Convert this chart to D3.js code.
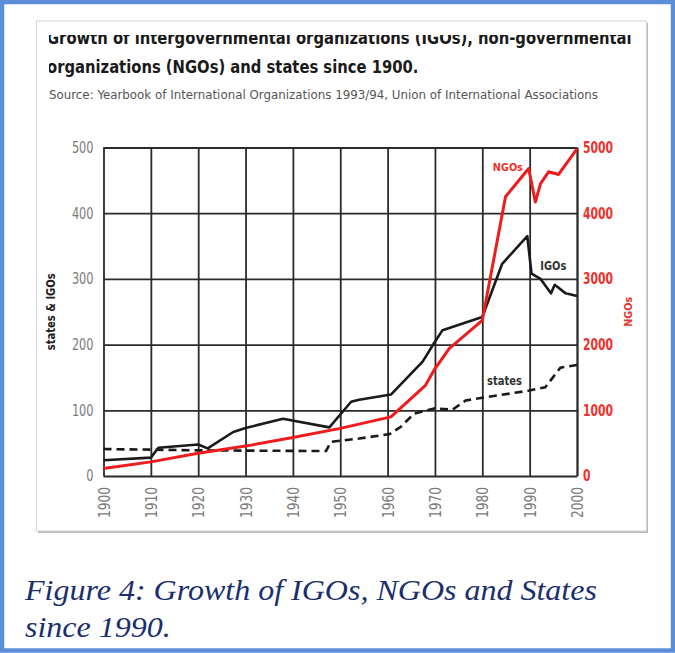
<!DOCTYPE html>
<html>
<head>
<meta charset="utf-8">
<script src="https://cdn.jsdelivr.net/npm/d3@7"></script>
<style>
  body { margin: 0; background: #fff; }
  .narrow { font-family: "Liberation Sans Narrow", "Arial Narrow", "DejaVu Sans Condensed", "Liberation Sans", sans-serif; }
</style>
</head>
<body>
<div id="chart"></div>
<script>
// ---- data ----
var xTicks = [1900, 1910, 1920, 1930, 1940, 1950, 1960, 1970, 1980, 1990, 2000];
var leftTicks = [0, 100, 200, 300, 400, 500];
var rightTicks = [0, 1000, 2000, 3000, 4000, 5000];

var igoYears = [1900, 1910, 1911.6, 1920, 1922, 1927.4, 1930, 1937.9, 1947.7, 1952.3, 1954, 1960.7, 1967.4, 1969.8, 1971.6, 1980, 1984.2, 1989.5, 1990.4, 1992.3, 1994.5, 1995.3, 1997.6, 2000];
var igoValues = [24, 28, 43, 48, 42, 67, 73, 87, 74, 113, 116, 124, 174, 202, 222, 242, 323, 365, 308, 300, 278, 291, 278, 274];

var ngoYears = [1900, 1910, 1920, 1930, 1940, 1950, 1960.7, 1968, 1969.8, 1973, 1980, 1984.9, 1989.8, 1991.2, 1992.3, 1994, 1996.1, 2000];
var ngoValues = [115, 215, 345, 455, 585, 725, 900, 1380, 1610, 1940, 2370, 4250, 4680, 4170, 4450, 4630, 4590, 4980];

var stateYears = [1900, 1910.9, 1920, 1947, 1948, 1954, 1960.5, 1962.8, 1965.6, 1970, 1973.7, 1976.5, 1980, 1989.9, 1993.3, 1996.5, 2000];
var stateValues = [41, 40, 39, 38, 52, 57, 64, 75, 95, 103, 101, 115, 119, 130, 135, 165, 169];

var svgWidth = 675;
var svgHeight = 653;

var margin = { top: 147.5, left: 103.5 };
var width = 473.5;
var height = 328.5;

var svg = d3.select("#chart")
  .append("svg")
  .attr("width", svgWidth)
  .attr("height", svgHeight);

// outer blue frame
svg.append("rect")
  .attr("x", 2).attr("y", 2)
  .attr("width", svgWidth - 4).attr("height", svgHeight - 4.5)
  .attr("fill", "#fff")
  .attr("stroke", "#5b8ed6")
  .attr("stroke-width", 4.5);

// picture box with a soft shadow
svg.append("rect")
  .attr("x", 38).attr("y", 23)
  .attr("width", 610).attr("height", 510)
  .attr("fill", "#bbb");
svg.append("rect")
  .attr("x", 36.5).attr("y", 21)
  .attr("width", 610).attr("height", 510)
  .attr("fill", "#fff")
  .attr("stroke", "#d4d4d4")
  .attr("stroke-width", 1);

// titles (clipped at top/left like the scanned picture)
svg.append("clipPath").attr("id", "titleClip")
  .append("rect").attr("x", 49).attr("y", 35).attr("width", 600).attr("height", 80);

var titleGroup = svg.append("g").attr("clip-path", "url(#titleClip)");
var t1 = titleGroup.append("text")
  .attr("class", "narrow")
  .attr("x", 47).attr("y", 44.5)
  .attr("font-size", 18.5).attr("font-weight", "bold").attr("fill", "#1a1a1a")
  .text("Growth of intergovernmental organizations (IGOs), non-governmental");
var t2 = titleGroup.append("text")
  .attr("class", "narrow")
  .attr("x", 47).attr("y", 73.5)
  .attr("font-size", 18.5).attr("font-weight", "bold").attr("fill", "#1a1a1a")
  .text("organizations (NGOs) and states since 1900.");

// squeeze both title lines by the same amount so line 1 fits its width
var len1 = t1.node().getComputedTextLength();
var sx = 585 / len1;
t1.attr("transform", `translate(${47 * (1 - sx)},0) scale(${sx},1)`);
t2.attr("transform", `translate(${47 * (1 - sx)},0) scale(${sx},1)`);

svg.append("text")
  .attr("class", "narrow")
  .attr("x", 49).attr("y", 99)
  .attr("font-size", 12.5).attr("fill", "#555")
  .attr("textLength", 549).attr("lengthAdjust", "spacingAndGlyphs")
  .text("Source: Yearbook of International Organizations 1993/94, Union of International Associations");

var chartGroup = svg.append("g")
  .attr("transform", `translate(${margin.left}, ${margin.top})`);

// scales
var xScale = d3.scaleLinear().domain([1900, 2000]).range([0, width]);
var yLeft = d3.scaleLinear().domain([0, 500]).range([height, 0]);
var yRight = d3.scaleLinear().domain([0, 5000]).range([height, 0]);

// grid via axes
var leftAxis = d3.axisLeft(yLeft).tickValues(leftTicks).tickSize(-width).tickPadding(10);
var rightAxis = d3.axisRight(yRight).tickValues(rightTicks).tickSize(0).tickPadding(6)
  .tickFormat(d3.format("d"));
var bottomAxis = d3.axisBottom(xScale).tickValues(xTicks).tickSize(-height).tickFormat(d3.format("d"));

var gx = chartGroup.append("g")
  .attr("transform", `translate(0, ${height})`)
  .call(bottomAxis);
gx.selectAll("text")
  .attr("transform", "rotate(-90)")
  .attr("x", -11).attr("y", 0).attr("dy", "0.36em")
  .attr("text-anchor", "end");

var gl = chartGroup.append("g").call(leftAxis);
var gr = chartGroup.append("g").attr("transform", `translate(${width}, 0)`).call(rightAxis);

[gx, gl].forEach(function(g) {
  g.select(".domain").remove();
  g.selectAll(".tick line").attr("stroke", "#2b2b2b").attr("stroke-width", 1.8);
  g.selectAll("text").attr("class", "narrow").attr("font-size", 15.5).attr("fill", "#7a7a7a");
});
gl.selectAll("text")
  .attr("textLength", d => String(d).length * 7.2).attr("lengthAdjust", "spacingAndGlyphs");
gx.selectAll("text")
  .attr("textLength", 31).attr("lengthAdjust", "spacingAndGlyphs");
gr.select(".domain").attr("stroke", "#2b2b2b").attr("stroke-width", 1.8);
gr.selectAll("text").attr("class", "narrow").attr("font-size", 15.5)
  .attr("font-weight", "bold").attr("fill", "#f0302a")
  .attr("textLength", d => String(d).length * 7.5).attr("lengthAdjust", "spacingAndGlyphs");

// lines
var lineLeft = d3.line().x(d => xScale(d[0])).y(d => yLeft(d[1]));
var lineRight = d3.line().x(d => xScale(d[0])).y(d => yRight(d[1]));

chartGroup.append("path")
  .datum(d3.zip(stateYears, stateValues))
  .attr("d", lineLeft)
  .attr("fill", "none").attr("stroke", "#1a1a1a")
  .attr("stroke-width", 2.6).attr("stroke-dasharray", "8,5");

chartGroup.append("path")
  .datum(d3.zip(igoYears, igoValues))
  .attr("d", lineLeft)
  .attr("fill", "none").attr("stroke", "#1a1a1a")
  .attr("stroke-width", 2.6).attr("stroke-linejoin", "round");

chartGroup.append("path")
  .datum(d3.zip(ngoYears, ngoValues))
  .attr("d", lineRight)
  .attr("fill", "none").attr("stroke", "#ee1c1c")
  .attr("stroke-width", 3).attr("stroke-linejoin", "round");

// series labels
chartGroup.append("text").attr("class", "narrow")
  .attr("x", xScale(1985.4)).attr("y", yRight(4640))
  .attr("text-anchor", "middle").attr("font-size", 11).attr("font-weight", "bold")
  .attr("fill", "#f0302a").attr("textLength", 30).attr("lengthAdjust", "spacingAndGlyphs")
  .text("NGOs");
chartGroup.append("text").attr("class", "narrow")
  .attr("x", xScale(1995)).attr("y", yLeft(314))
  .attr("text-anchor", "middle").attr("font-size", 12).attr("font-weight", "bold")
  .attr("fill", "#333").attr("textLength", 26).attr("lengthAdjust", "spacingAndGlyphs")
  .text("IGOs");
chartGroup.append("text").attr("class", "narrow")
  .attr("x", xScale(1984.7)).attr("y", yLeft(138))
  .attr("text-anchor", "middle").attr("font-size", 12).attr("font-weight", "bold")
  .attr("fill", "#333").attr("textLength", 35).attr("lengthAdjust", "spacingAndGlyphs")
  .text("states");

// axis titles
chartGroup.append("text").attr("class", "narrow")
  .attr("transform", `translate(${-49}, ${height / 2}) rotate(-90)`)
  .attr("text-anchor", "middle").attr("font-size", 12).attr("font-weight", "bold")
  .attr("fill", "#222").attr("textLength", 77).attr("lengthAdjust", "spacingAndGlyphs")
  .text("states & IGOs");
chartGroup.append("text").attr("class", "narrow")
  .attr("transform", `translate(${width + 55}, ${height / 2}) rotate(-90)`)
  .attr("text-anchor", "middle").attr("font-size", 11).attr("font-weight", "bold")
  .attr("fill", "#f0302a").attr("textLength", 30).attr("lengthAdjust", "spacingAndGlyphs")
  .text("NGOs");

// caption under the picture
var capFont = "'Liberation Serif', 'Times New Roman', Tinos, 'Nimbus Roman', serif";
var cap1 = svg.append("text")
  .attr("x", 25).attr("y", 600)
  .attr("font-family", capFont)
  .attr("font-style", "italic").attr("font-size", 30).attr("fill", "#1b2f6e")
  .text("Figure 4: Growth of IGOs, NGOs and States");
var cap2 = svg.append("text")
  .attr("x", 25).attr("y", 637)
  .attr("font-family", capFont)
  .attr("font-style", "italic").attr("font-size", 30).attr("fill", "#1b2f6e")
  .text("since 1990.");
var cx = 572 / cap1.node().getComputedTextLength();
cap1.attr("transform", `translate(${25 * (1 - cx)},0) scale(${cx},1)`);
cap2.attr("transform", `translate(${25 * (1 - cx)},0) scale(${cx},1)`);
</script>
</body>
</html>
